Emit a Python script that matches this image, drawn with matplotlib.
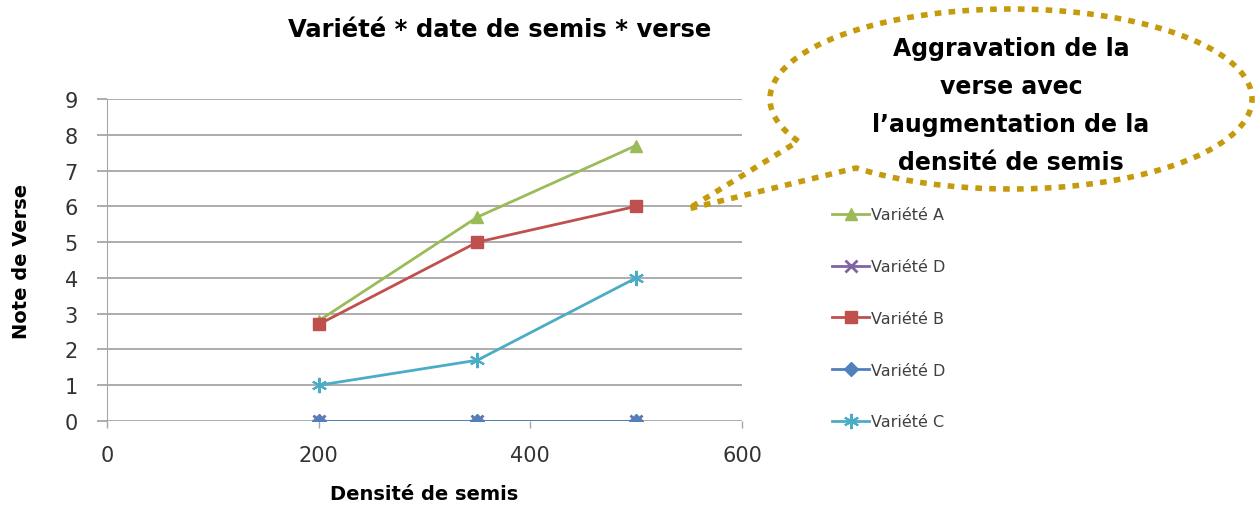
import numpy as np
import matplotlib.pyplot as plt

densite = [200, 350, 500]
var_a = [2.8, 5.7, 7.7]
var_d1 = [0, 0, 0]
var_b = [2.7, 5.0, 6.0]
var_d2 = [0, 0, 0]
var_c = [1.0, 1.7, 4.0]

W, H = 1256, 510
fig = plt.figure(figsize=(W / 100, H / 100), dpi=100)
ax = fig.add_axes([107 / W, 1 - 422 / H, (742 - 107) / W, (422 - 100) / H])

grey = '#A6A6A6'
ax.plot(densite, var_a, color='#9BBB59', lw=2, marker='^', ms=9, label='Variété A', zorder=3)
ax.plot(densite, var_d1, color='#8064A2', lw=2, marker='x', ms=9, mew=2, label='Variété D', zorder=3)
ax.plot(densite, var_b, color='#C0504D', lw=2, marker='s', ms=9, label='Variété B', zorder=4)
ax.plot(densite, var_d2, color='#4F81BD', lw=2, marker='D', ms=7, label='Variété D', zorder=4)
ax.plot(densite, var_c, color='#4BACC6', lw=2, marker=(6, 2, 0), ms=11, mew=1.5, label='Variété C', zorder=3)

ax.set_xlim(0, 600)
ax.set_ylim(0, 9)
ax.set_xticks([0, 200, 400, 600])
ax.set_yticks(range(10))
ax.grid(axis='y', color=grey, lw=1.3)
ax.set_axisbelow(True)
for s in ['top', 'right', 'bottom']:
    ax.spines[s].set_visible(False)
ax.spines['left'].set_color(grey)
ax.tick_params(axis='y', length=7, color=grey, width=1.3, labelsize=15, labelcolor='#333333', pad=14)
ax.tick_params(axis='x', length=5, color=grey, width=1, labelsize=15, labelcolor='#333333', pad=12)

ax.set_xlabel('Densité de semis', fontsize=14, fontweight='bold', labelpad=14)
ax.set_ylabel('Note de Verse', fontsize=14, fontweight='bold', labelpad=24)
fig.text(500 / W, 1 - 30 / H, 'Variété * date de semis * verse', fontsize=17.5,
         fontweight='bold', ha='center', va='center')

ax.legend(loc='upper left', bbox_to_anchor=(818 / W, 1 - 194 / H), bbox_transform=fig.transFigure,
          frameon=False, fontsize=11.5, handlelength=2.3, handletextpad=0.1, labelspacing=2.3,
          labelcolor='#404040')

# callout bubble
ov = fig.add_axes([0, 0, 1, 1], facecolor='none')
ov.set_xlim(0, W)
ov.set_ylim(H, 0)
ov.axis('off')
cx, cy, a, b = 1011, 100, 241, 90
t = np.linspace(np.radians(152), np.radians(130 + 360), 400)
ex = cx + a * np.cos(t)
ey = cy + b * np.sin(t)
bx = np.concatenate([ex, [688], ex[:1]])
by = np.concatenate([ey, [210], ey[:1]])
ov.plot(bx, by, color='#C59A0C', lw=4, dashes=(1.2, 1.3), solid_capstyle='butt',
        dash_capstyle='butt')
bubble_text = 'Aggravation de la\nverse avec\nl\u2019augmentation de la\ndensité de semis'
fig.text(cx / W, 1 - 106 / H, bubble_text, fontsize=17, fontweight='bold',
         ha='center', va='center', linespacing=1.72)

fig.savefig('out.png', dpi=100)
